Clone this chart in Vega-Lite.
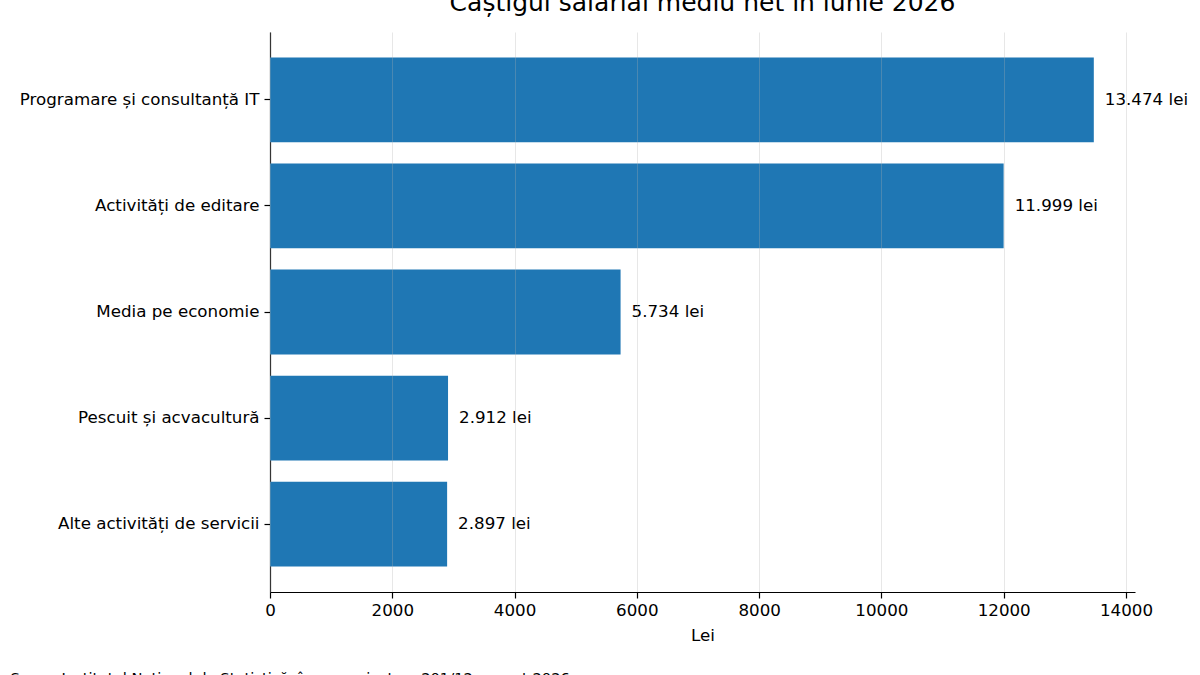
{
  "$schema": "https://vega.github.io/schema/vega-lite/v6.json",
  "width": 865,
  "height": 560,
  "autosize": "none",
  "padding": {"left": 270, "top": 32, "right": 65, "bottom": 83},
  "title": {
    "text": "Câștigul salarial mediu net în iunie 2026",
    "fontSize": 25,
    "fontWeight": "normal",
    "font": "DejaVu Sans",
    "color": "black",
    "anchor": "middle",
    "offset": 16
  },
  "config": {
    "view": {"stroke": null},
    "font": "DejaVu Sans",
    "axis": {
      "labelFont": "DejaVu Sans",
      "titleFont": "DejaVu Sans",
      "labelFontSize": 16.7,
      "titleFontSize": 16.7,
      "labelColor": "black",
      "titleColor": "black",
      "titleFontWeight": "normal",
      "domainColor": "black",
      "tickColor": "black",
      "domainWidth": 1.2,
      "tickWidth": 1.2,
      "tickSize": 6,
      "labelLimit": 400
    }
  },
  "data": {
    "values": [
      {"categorie": "Programare și consultanță IT", "valoare": 13474, "eticheta": "13.474 lei"},
      {"categorie": "Activități de editare", "valoare": 11999, "eticheta": "11.999 lei"},
      {"categorie": "Media pe economie", "valoare": 5734, "eticheta": "5.734 lei"},
      {"categorie": "Pescuit și acvacultură", "valoare": 2912, "eticheta": "2.912 lei"},
      {"categorie": "Alte activități de servicii", "valoare": 2897, "eticheta": "2.897 lei"}
    ]
  },
  "encoding": {
    "y": {
      "field": "categorie",
      "type": "nominal",
      "sort": null,
      "scale": {"paddingInner": 0.2, "paddingOuter": 0.24},
      "axis": {"title": null, "labelPadding": 5, "grid": false}
    },
    "x": {
      "field": "valoare",
      "type": "quantitative",
      "scale": {"domain": [0, 14147.7], "nice": false}
    }
  },
  "layer": [
    {
      "mark": {"type": "bar", "color": "#1f77b4"},
      "encoding": {
        "x": {
          "field": "valoare",
          "type": "quantitative",
          "scale": {"domain": [0, 14147.7], "nice": false},
          "axis": {
            "title": "Lei",
            "orient": "bottom",
            "values": [0, 2000, 4000, 6000, 8000, 10000, 12000, 14000],
            "format": "d",
            "labelFlush": false,
            "labelPadding": 4,
            "titlePadding": 9,
            "grid": true,
            "gridColor": "#b0b0b0",
            "gridOpacity": 0.3,
            "gridWidth": 1,
            "zindex": 1
          }
        }
      }
    },
    {
      "mark": {"type": "text", "align": "left", "baseline": "middle", "dx": 11, "fontSize": 16.7, "color": "black"},
      "encoding": {
        "text": {"field": "eticheta"},
        "x": {
          "field": "valoare",
          "type": "quantitative",
          "scale": {"domain": [0, 14147.7], "nice": false},
          "axis": {
            "orient": "bottom",
            "title": "Sursa: Institutul Național de Statistică, în comunicat nr. 201/12 august 2026",
            "titleFontSize": 14.7,
            "titleAnchor": "start",
            "titleAlign": "left",
            "titleX": -260,
            "titleY": 90,
            "titleBaseline": "alphabetic",
            "domain": false,
            "ticks": false,
            "labels": false,
            "grid": false
          }
        }
      }
    }
  ],
  "resolve": {"axis": {"x": "independent"}}
}
